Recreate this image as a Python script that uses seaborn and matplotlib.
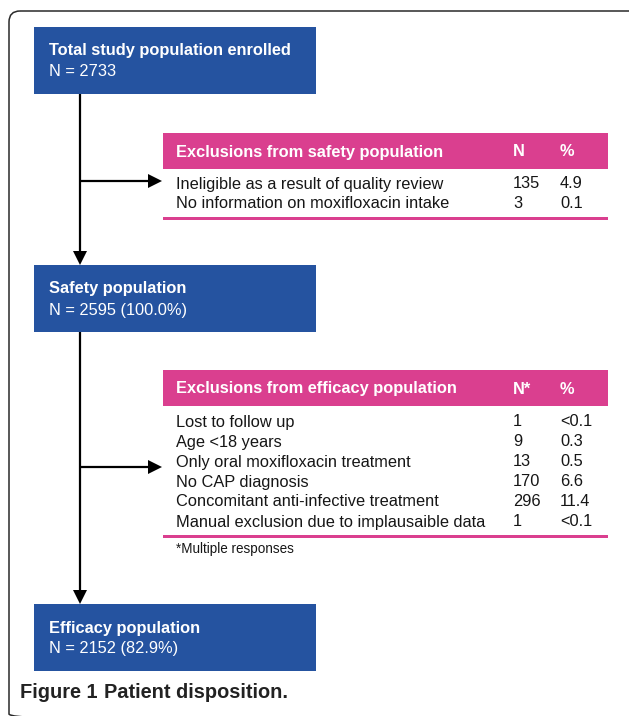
import matplotlib
matplotlib.use("Agg")
import matplotlib.pyplot as plt
import seaborn as sns
from matplotlib.patches import Rectangle, FancyBboxPatch, Polygon

sns.set_theme(style="white")
plt.rcParams['font.family'] = ['Liberation Sans', 'DejaVu Sans']

# ---- data ----
box_titles = ["Total study population enrolled", "Safety population", "Efficacy population"]
box_counts = ["N = 2733", "N = 2595 (100.0%)", "N = 2152 (82.9%)"]

safety_header = ["Exclusions from safety population", "N", "%"]
safety_reasons = ["Ineligible as a result of quality review", "No information on moxifloxacin intake"]
safety_n = ["135", "3"]
safety_pct = ["4.9", "0.1"]

efficacy_header = ["Exclusions from efficacy population", "N*", "%"]
efficacy_reasons = ["Lost to follow up", "Age <18 years", "Only oral moxifloxacin treatment",
                    "No CAP diagnosis", "Concomitant anti-infective treatment",
                    "Manual exclusion due to implausaible data"]
efficacy_n = ["1", "9", "13", "170", "296", "1"]
efficacy_pct = ["<0.1", "0.3", "0.5", "6.6", "11.4", "<0.1"]
footnote = "*Multiple responses"
caption_bold = "Figure 1"
caption_rest = "Patient disposition."

BLUE = "#2553a0"
PINK = "#da3f8f"
INK = "#161616"

W, H = 629, 716
fig = plt.figure(figsize=(W / 100, H / 100), dpi=100)
ax = fig.add_axes([0, 0, 1, 1])
ax.set_xlim(0, W)
ax.set_ylim(H, 0)
ax.axis("off")

PX = 72 / 100  # px -> pt
fs_body = 16.4 * PX
fs_small = 13.5 * PX
LW = 1.6

# outer rounded frame (extends past right and bottom edges)
frame = FancyBboxPatch((9, 11), 645, 714, boxstyle="round,pad=0,rounding_size=11",
                       fill=False, ec="#2a2a2a", lw=1.1, clip_on=True)
ax.add_patch(frame)

# blue boxes
box_tops = [27, 265, 604]
for top, t, n in zip(box_tops, box_titles, box_counts):
    ax.add_patch(Rectangle((34, top), 282, 67, fc=BLUE, ec="none"))
    ax.text(49, top + 24, t, color="white", fontsize=fs_body, fontweight="bold", va="center", ha="left")
    ax.text(49, top + 45, n, color="white", fontsize=fs_body, va="center", ha="left")

# connectors with arrowheads
def head_down(x, tip):
    ax.add_patch(Polygon([(x - 7, tip - 14), (x + 7, tip - 14), (x, tip)], closed=True, fc="black", ec="none"))

def head_right(tip, y):
    ax.add_patch(Polygon([(tip - 14, y - 7), (tip - 14, y + 7), (tip, y)], closed=True, fc="black", ec="none"))

ax.plot([80, 80], [94, 253], color="black", lw=LW, solid_capstyle="butt")
head_down(80, 265)
ax.plot([80, 150], [181, 181], color="black", lw=LW, solid_capstyle="butt")
head_right(162, 181)

ax.plot([80, 80], [332, 592], color="black", lw=LW, solid_capstyle="butt")
head_down(80, 604)
ax.plot([80, 150], [467, 467], color="black", lw=LW, solid_capstyle="butt")
head_right(162, 467)

# tables
def table(top, header, reasons, ns, pcts, row0, bottom):
    ax.add_patch(Rectangle((163, top), 445, 36, fc=PINK, ec="none"))
    yh = top + 19
    ax.text(176, yh, header[0], color="white", fontsize=fs_body, fontweight="bold", va="center")
    ax.text(513, yh, header[1], color="white", fontsize=fs_body, fontweight="bold", va="center")
    ax.text(560, yh, header[2], color="white", fontsize=fs_body, fontweight="bold", va="center")
    for i, (r, n, p) in enumerate(zip(reasons, ns, pcts)):
        y = row0 + 20 * i
        ax.text(176, y, r, color=INK, fontsize=fs_body, va="center")
        ax.text(513, y, n, color=INK, fontsize=fs_body, va="center")
        ax.text(560, y, p, color=INK, fontsize=fs_body, va="center")
    ax.add_patch(Rectangle((163, bottom - 1.5), 445, 3, fc=PINK, ec="none"))

table(133, safety_header, safety_reasons, safety_n, safety_pct, 184, 218)
table(370, efficacy_header, efficacy_reasons, efficacy_n, efficacy_pct, 422, 536)
ax.text(176, 549, footnote, color=INK, fontsize=fs_small, va="center")

# caption
cap_fs = 20 * PX
t1 = ax.text(20, 693, caption_bold, color="#222222", fontsize=cap_fs, fontweight="bold", va="center")
fig.canvas.draw()
bb = t1.get_window_extent()
inv = ax.transData.inverted()
x_end = inv.transform((bb.x1, bb.y0))[0]
ax.text(x_end + 6, 693, caption_rest, color="#222222", fontsize=cap_fs, fontweight="bold", va="center")

fig.savefig("out.png", dpi=100)
